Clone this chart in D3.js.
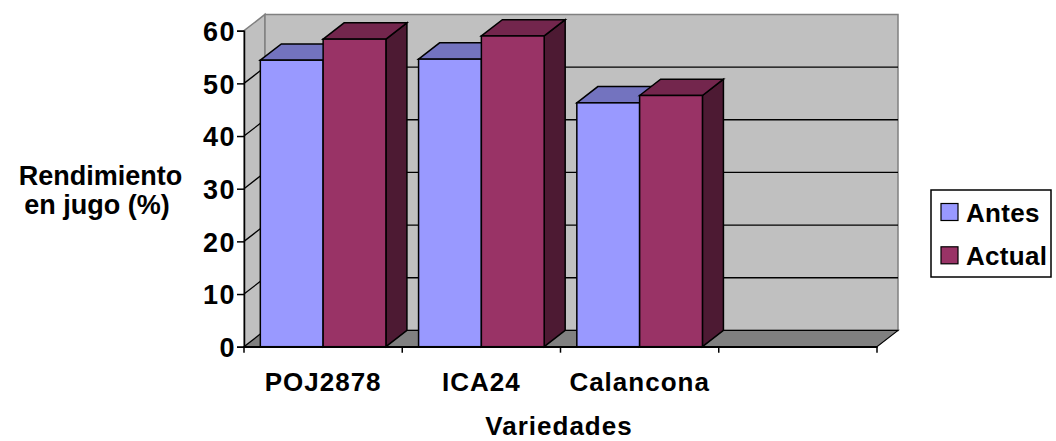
<!DOCTYPE html>
<html>
<head>
<meta charset="utf-8">
<script src="https://cdn.jsdelivr.net/npm/d3@7"></script>
<style>
  html, body { margin: 0; padding: 0; background: #fff; }
  svg { display: block; }
  text { font-family: "Liberation Sans", Arial, sans-serif; font-weight: bold; fill: #000; }
</style>
</head>
<body>
<svg id="chart" width="1056" height="441"></svg>
<script>
// Rendimiento en jugo por variedad de caña
const categories = ["POJ2878", "ICA24", "Calancona", " "];
const seriesNames = ["Antes", "Actual"];
const antes = [54.4, 54.6, 46.3];
const actual = [58.4, 59.0, 47.7];
const yTicks = [0, 10, 20, 30, 40, 50, 60];

const frontColors = ["#9999FF", "#993366"];
const topColors = ["#7373BF", "#73264D"];
const sideColors = ["#5C5C99", "#4D1A33"];

const svg = d3.select("#chart");

// 3D depth offset of the plot box
const depth = { dx: 21, dy: -16.3 };

const x = d3.scaleBand().domain(categories).range([244, 877]).paddingInner(0).paddingOuter(0);
const xs = d3.scaleBand().domain(seriesNames).range([0, x.bandwidth()]).paddingInner(0).paddingOuter(0.26);
const y = d3.scaleLinear().domain([0, 60]).range([346.7, 30.7]);

const x0 = x.range()[0], x1 = x.range()[1];
const yb = y(0), yt = y(60);
const pts = a => a.map(p => p.join(",")).join(" ");

// walls
svg.append("polygon")
  .attr("points", pts([[x0, yb], [x0, yt], [x0 + depth.dx, yt + depth.dy], [x0 + depth.dx, yb + depth.dy]]))
  .attr("fill", "#C0C0C0").attr("stroke", "#808080").attr("stroke-width", 1.5);
svg.append("polygon")
  .attr("points", pts([[x0 + depth.dx, yb + depth.dy], [x0 + depth.dx, yt + depth.dy], [x1 + depth.dx, yt + depth.dy], [x1 + depth.dx, yb + depth.dy]]))
  .attr("fill", "#C0C0C0").attr("stroke", "#808080").attr("stroke-width", 1.5);
// floor
svg.append("polygon")
  .attr("points", pts([[x0, yb], [x0 + depth.dx, yb + depth.dy], [x1 + depth.dx, yb + depth.dy], [x1, yb]]))
  .attr("fill", "#808080").attr("stroke", "#000").attr("stroke-width", 1.2);

// gridlines on side and back walls
const grid = svg.append("g").attr("stroke", "#000").attr("stroke-width", 1.3).attr("fill", "none");
yTicks.filter(t => t > 0 && t < 60).forEach(t => {
  grid.append("polyline")
    .attr("points", pts([[x0, y(t)], [x0 + depth.dx, y(t) + depth.dy], [x1 + depth.dx, y(t) + depth.dy]]));
});

// bars
const data = categories.slice(0, 3).flatMap((c, i) => [
  { cat: c, s: 0, v: antes[i] },
  { cat: c, s: 1, v: actual[i] }
]);
const bars = svg.append("g").attr("stroke", "#000").attr("stroke-width", 1.5).attr("stroke-linejoin", "miter");
data.forEach(d => {
  const bx0 = x(d.cat) + xs(seriesNames[d.s]);
  const bx1 = bx0 + xs.bandwidth();
  const by = y(d.v);
  const g = bars.append("g");
  g.append("polygon")
    .attr("points", pts([[bx1, by], [bx1 + depth.dx, by + depth.dy], [bx1 + depth.dx, yb + depth.dy], [bx1, yb]]))
    .attr("fill", sideColors[d.s]);
  g.append("polygon")
    .attr("points", pts([[bx0, by], [bx0 + depth.dx, by + depth.dy], [bx1 + depth.dx, by + depth.dy], [bx1, by]]))
    .attr("fill", topColors[d.s]);
  g.append("rect")
    .attr("x", bx0).attr("y", by).attr("width", bx1 - bx0).attr("height", yb - by)
    .attr("fill", frontColors[d.s]);
});

// y axis
const yAxis = svg.append("g").attr("transform", `translate(${x0},0)`)
  .call(d3.axisLeft(y).tickValues(yTicks).tickSize(7).tickPadding(1).tickFormat(d3.format("d")));
yAxis.select(".domain").attr("stroke", "#000").attr("stroke-width", 1.5);
yAxis.selectAll(".tick line").attr("stroke", "#000").attr("stroke-width", 1.5);
yAxis.selectAll(".tick text")
  .attr("font-family", "Liberation Sans, Arial, sans-serif").attr("font-weight", "bold")
  .attr("font-size", 27).attr("fill", "#000").attr("dy", "0.36em").style("letter-spacing", "1.5px");

// x axis
const xAxis = svg.append("g").attr("transform", `translate(0,${yb})`)
  .call(d3.axisBottom(x).tickSize(0).tickPadding(0));
xAxis.select(".domain").attr("stroke", "#000").attr("stroke-width", 1.5);
xAxis.selectAll(".tick text")
  .attr("font-family", "Liberation Sans, Arial, sans-serif").attr("font-weight", "bold")
  .attr("font-size", 26).attr("fill", "#000").attr("y", 44).attr("dy", 0).style("letter-spacing", "1px");
// category boundary ticks
const bounds = categories.map(c => x(c)).concat([x1]);
svg.append("g").selectAll("line").data(bounds).join("line")
  .attr("x1", d => d).attr("x2", d => d).attr("y1", yb).attr("y2", yb + 6)
  .attr("stroke", "#000").attr("stroke-width", 1.5);

// axis titles
const yTitle = svg.append("text").attr("text-anchor", "middle").attr("font-size", 27);
yTitle.append("tspan").attr("x", 100.5).attr("y", 185).text("Rendimiento");
yTitle.append("tspan").attr("x", 97).attr("y", 214).text("en jugo (%)");
svg.append("text").attr("x", 559).attr("y", 435).attr("text-anchor", "middle")
  .attr("font-size", 26).style("letter-spacing", "1px").text("Variedades");

// legend
const legend = svg.append("g");
legend.append("rect").attr("x", 931).attr("y", 190).attr("width", 120).attr("height", 87)
  .attr("fill", "#fff").attr("stroke", "#000").attr("stroke-width", 1.5);
seriesNames.forEach((n, i) => {
  const ly = 203.5 + i * 43.3;
  legend.append("rect").attr("x", 941).attr("y", ly).attr("width", 17).attr("height", 17)
    .attr("fill", frontColors[i]).attr("stroke", "#000").attr("stroke-width", 1.2);
  legend.append("text").attr("x", 966).attr("y", ly + 18).attr("font-size", 26)
    .style("letter-spacing", "0.3px").text(n);
});
</script>
</body>
</html>
